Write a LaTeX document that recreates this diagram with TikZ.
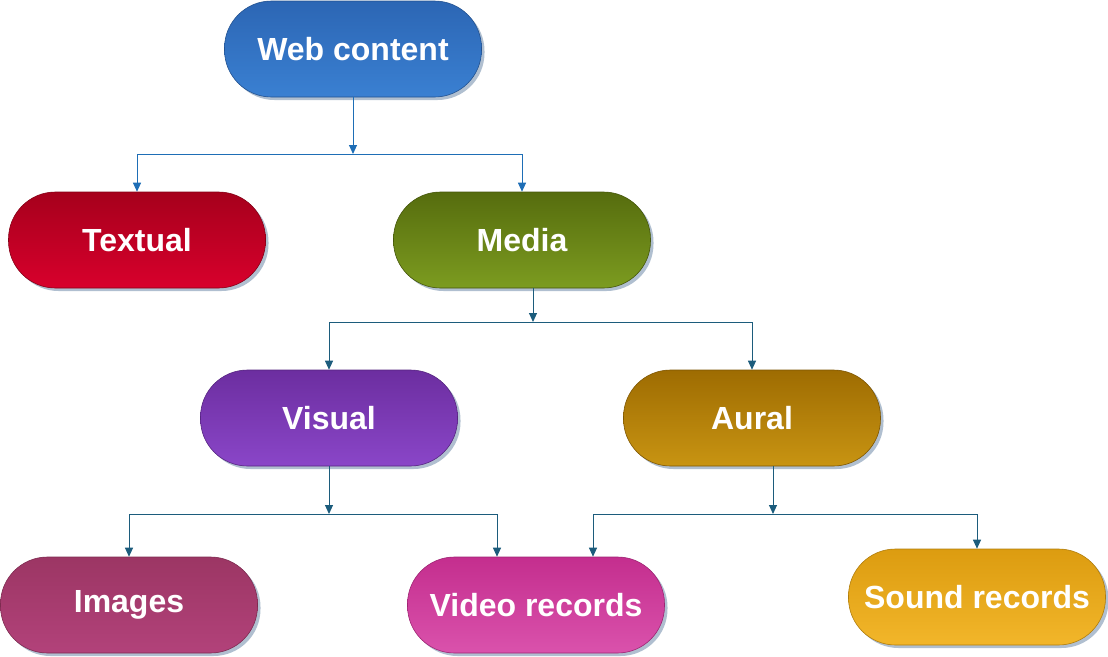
\documentclass[tikz,border=0pt]{standalone}
\usepackage{fontspec}
\setmainfont{Liberation Sans}
\usetikzlibrary{shadows,arrows.meta}
\definecolor{c1t}{HTML}{2C66B4}\definecolor{c1b}{HTML}{3A80D2}
\definecolor{c2t}{HTML}{A6001C}\definecolor{c2b}{HTML}{D8002C}
\definecolor{c3t}{HTML}{566C0E}\definecolor{c3b}{HTML}{7C9C20}
\definecolor{c4t}{HTML}{6C2EA0}\definecolor{c4b}{HTML}{8A46C8}
\definecolor{c5t}{HTML}{9E6C02}\definecolor{c5b}{HTML}{C89412}
\definecolor{c6t}{HTML}{9C3664}\definecolor{c6b}{HTML}{B2427A}
\definecolor{c7t}{HTML}{C42E8E}\definecolor{c7b}{HTML}{DA52AC}
\definecolor{c8t}{HTML}{DC9C10}\definecolor{c8b}{HTML}{F2B62A}
\definecolor{lnblue}{HTML}{1E6EB6}
\definecolor{lnteal}{HTML}{1C5C7C}
\definecolor{shd}{HTML}{8FA4BC}
\tikzset{
  pill/.style n args={2}{shape=rectangle, rounded corners=47pt, minimum width=257pt,
    minimum height=96pt, inner sep=0pt, top color=#1, bottom color=#2,
    draw=#1!80!black, line width=0.6pt, text=white,
    font=\fontsize{32}{36}\selectfont\bfseries,
    drop shadow={shadow xshift=3pt, shadow yshift=-3pt, fill=shd, opacity=0.7}},
  conn/.style={draw=lnteal, line width=1pt, -{Triangle[width=8pt,length=9pt]}},
  connb/.style={conn, draw=lnblue}
}
\begin{document}
\begin{tikzpicture}[x=1pt,y=-1pt]
\useasboundingbox (0,0) rectangle (1108,656);
\node[pill={c1t}{c1b}] (web) at (353,49) {Web content};
\node[pill={c2t}{c2b}] (tex) at (137,240) {Textual};
\node[pill={c3t}{c3b}] (med) at (522,240) {Media};
\node[pill={c4t}{c4b}] (vis) at (329,418) {Visual};
\node[pill={c5t}{c5b}] (aur) at (752,418) {Aural};
\node[pill={c6t}{c6b}] (img) at (129,605) {Images};
\node[pill={c7t}{c7b}] (vid) at (536,605) {Video records};
\node[pill={c8t}{c8b}] (snd) at (977,597) {Sound records};
% junctions
\coordinate (j1) at (353,154);
\coordinate (j2) at (533,322);
\coordinate (j3) at (329,514);
\coordinate (j4) at (773,514);
\coordinate (v1) at (497,557);
\coordinate (v2) at (593,557);
% web content
\draw[connb] (web.south) -- (j1);
\draw[connb] (j1) -| (tex.north);
\draw[connb] (j1) -| (med.north);
% media
\draw[conn] (j2 |- med.south) -- (j2);
\draw[conn] (j2) -| (vis.north);
\draw[conn] (j2) -| (aur.north);
% visual
\draw[conn] (vis.south) -- (j3);
\draw[conn] (j3) -| (img.north);
\draw[conn] (j3) -| (v1 |- vid.north);
% aural
\draw[conn] (j4 |- aur.south) -- (j4);
\draw[conn] (j4) -| (v2 |- vid.north);
\draw[conn] (j4) -| (snd.north);
\end{tikzpicture}
\end{document}
